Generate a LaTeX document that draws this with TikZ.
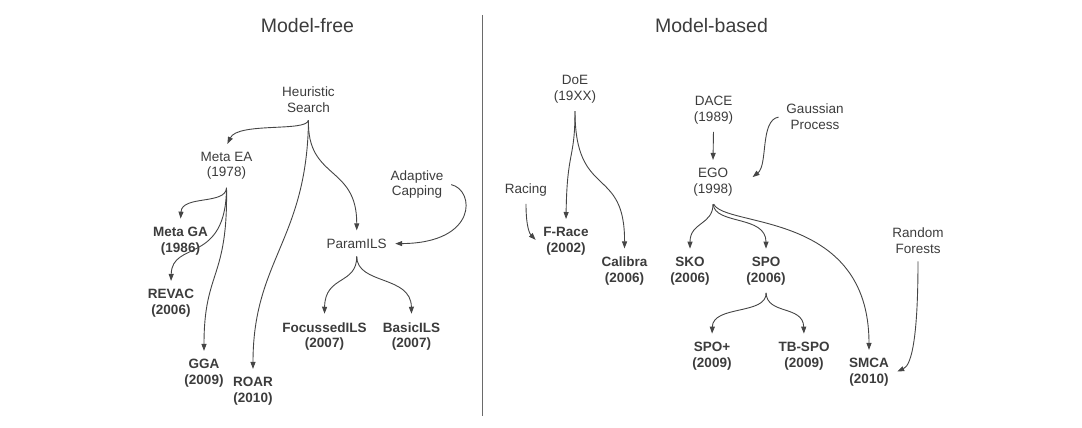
\documentclass[tikz,border=0pt]{standalone}
\usepackage{fontspec}
\setmainfont{Liberation Sans}
\usetikzlibrary{arrows.meta,calc}
\definecolor{txtgray}{HTML}{3C3C3C}
\definecolor{linegray}{HTML}{454545}
\tikzset{
  lbl/.style={align=center,inner sep=2pt,outer sep=4.5pt,text=txtgray,font=\fontsize{13.5}{15.5}\selectfont},
  bld/.style={lbl,font=\fontsize{13.5}{15.5}\selectfont\bfseries},
  ttl/.style={anchor=base,inner sep=0pt,text=txtgray,font=\fontsize{19.5}{22}\selectfont},
  conn/.style={draw=linegray,line width=0.9pt,-{Triangle[length=7pt,width=5pt]},shorten >=2pt,shorten <=1.5pt},
}
\begin{document}
\begin{tikzpicture}[x=1pt,y=-1pt]
\useasboundingbox (0,0) rectangle (1082,428);
% titles and divider
\node[ttl] (tfree) at (307.5,33) {Model-free};
\node[ttl] (tbased) at (711.5,33) {Model-based};
\coordinate (divtop) at (482.5,15);
\coordinate (divbot) at (482.5,416);
\draw[draw=linegray!80,line width=0.9pt] (divtop) -- (divbot);
% model-free nodes
\node[lbl] (hs) at (308.5,99.6) {Heuristic\\Search};
\node[lbl] (mea) at (226.5,166) {Meta EA\\(1978)};
\node[bld] (mga) at (180.5,241) {Meta GA\\(1986)};
\node[bld] (revac) at (171,303.3) {REVAC\\(2006)};
\node[bld] (gga) at (204,373.3) {GGA\\(2009)};
\node[bld] (roar) at (253,391.3) {ROAR\\(2010)};
\node[lbl] (ac) at (417,184.3) {Adaptive\\Capping};
\node[lbl,anchor=base] (pils) at (356.7,248.3) {ParamILS};
\node[bld] (fils) at (324.5,336.3) {FocussedILS\\(2007)};
\node[bld] (bils) at (411.5,336.3) {BasicILS\\(2007)};
% model-based nodes
\node[lbl] (doe) at (575,89.3) {DoE\\(19XX)};
\node[lbl,anchor=base] (racing) at (526,193) {Racing};
\node[bld] (frace) at (566,241.3) {F-Race\\(2002)};
\node[bld] (calibra) at (624.5,271) {Calibra\\(2006)};
\node[lbl] (dace) at (713.5,110) {DACE\\(1989)};
\node[lbl] (gp) at (815,116.9) {Gaussian\\Process};
\node[lbl] (ego) at (713,182.3) {EGO\\(1998)};
\node[bld] (sko) at (690,271) {SKO\\(2006)};
\node[bld] (spo) at (766,271) {SPO\\(2006)};
\node[bld] (spop) at (712,356) {SPO+\\(2009)};
\node[bld] (tbspo) at (804,356) {TB-SPO\\(2009)};
\node[bld] (smca) at (869,372.3) {SMCA\\(2010)};
\node[lbl] (rf) at (918,240.6) {Random\\Forests};
% model-free connectors
\draw[conn] (hs.south) .. controls (307,132) and (238,122) .. (mea.north);
\draw[conn] (hs.south) .. controls (307,240) and (253,260) .. (roar.north);
\draw[conn] (hs.south) .. controls (307,180) and (357,165) .. (pils.north);
\draw[conn] (ac.east) .. controls (475,190) and (478,243) .. (pils.east);
\draw[conn] (mea.south) .. controls (226,205) and (182,195) .. (mga.north);
\draw[conn] (mea.south) .. controls (226,265) and (172,240) .. (revac.north);
\draw[conn] (mea.south) .. controls (228,280) and (204,270) .. (gga.north);
\draw[conn] (pils.south) .. controls (357,285) and (325,275) .. (fils.north);
\draw[conn] (pils.south) .. controls (357,285) and (411,275) .. (bils.north);
% model-based connectors
\draw[conn] (doe.south) .. controls (575,160) and (567,150) .. (frace.north);
\draw[conn] (doe.south) .. controls (575,200) and (625,165) .. (calibra.north);
\draw[conn] (racing.south) .. controls (526,228) and (530,234) .. (frace.west);
\draw[conn] (dace.south) -- (ego.north);
\draw[conn] (gp.west) .. controls (760,120) and (768,165) .. ($(ego.east)+(12,-4)$);
\draw[conn] (ego.south) .. controls (713,225) and (690,222) .. (sko.north);
\draw[conn] (ego.south) .. controls (715,225) and (766,215) .. (spo.north);
\draw[conn] (ego.south) .. controls (725,228) and (869,210) .. (smca.north);
\draw[conn] (spo.south) .. controls (767,315) and (713,305) .. (spop.north);
\draw[conn] (spo.south) .. controls (767,315) and (803,305) .. (tbspo.north);
\draw[conn] (rf.south) .. controls (918,335) and (912,365) .. (smca.east);
\end{tikzpicture}
\end{document}
